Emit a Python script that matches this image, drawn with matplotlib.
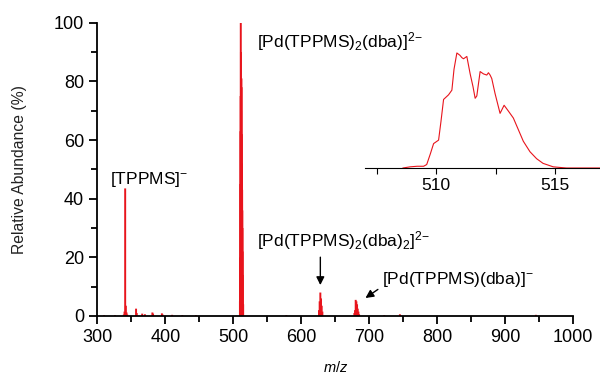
import numpy as np
import matplotlib
matplotlib.use("Agg")
import matplotlib.pyplot as plt
from matplotlib.ticker import MultipleLocator

plt.rcParams['font.family'] = ['Liberation Sans', 'DejaVu Sans']
plt.rcParams['mathtext.fontset'] = 'custom'
plt.rcParams['mathtext.rm'] = 'Liberation Sans'
plt.rcParams['mathtext.it'] = 'Liberation Sans:italic'

red = '#e8141c'

# main spectrum sticks (m/z, relative abundance %)
mz = [310, 326, 339, 340, 341, 342, 343, 344, 357, 358, 366, 370, 381, 382, 395, 396, 410, 425, 445,
      509.75, 510.0, 510.25, 510.5, 510.75, 511.0, 511.25, 511.5, 511.75, 512.0, 512.25, 512.5,
      512.75, 513.0, 513.25, 513.5, 513.75, 514.0, 514.5,
      578, 626, 627, 628, 629, 630, 631,
      678, 679, 680, 681, 682, 683, 684, 685, 722, 745, 746, 945]
abund = [0.3, 0.3, 0.5, 1.5, 43.5, 3.5, 1.2, 0.5, 2.5, 1.0, 0.8, 0.6, 1.2, 0.8, 0.9, 0.5, 0.4, 0.3, 0.3,
         5, 20, 45, 63, 75, 100, 90, 70, 62, 81, 78, 62,
         52, 43, 36, 30, 22, 14, 4,
         0.3, 2, 5, 8, 6, 3.5, 1.5,
         1, 2, 5.5, 5, 4, 2.5, 1.5, 0.6, 0.3, 0.6, 0.3, 0.4]

# inset: zoom on the m/z 510 cluster
inset_mz = [508.6, 508.9, 509.2, 509.47, 509.6, 509.75, 509.89, 510.1, 510.2, 510.31, 510.52, 510.66,
            510.75, 510.87, 511.0, 511.08, 511.15, 511.29, 511.43, 511.55, 511.64, 511.71, 511.85,
            511.99, 512.13, 512.2, 512.27, 512.34, 512.48, 512.69, 512.86, 513.04, 513.25, 513.46,
            513.67, 513.95, 514.23, 514.5, 514.93, 515.2, 515.49, 516.9]
inset_ab = [0, 1, 1.5, 1.5, 3, 12, 21, 24, 40, 59, 63, 67,
            85, 99, 97, 95, 94, 96, 81, 70, 60, 62, 83,
            81, 80, 82, 80, 77, 64, 47, 54, 49, 43, 33,
            23, 14, 8, 4, 1, 0.5, 0, 0]

fig = plt.figure(figsize=(6, 3.8), dpi=100)
ax = fig.add_axes([97.3/600, 1-316/380, 476/600, 293.3/380])
vl = ax.vlines(mz, 0, abund, color=red, lw=1.4)
vl.set_snap(False)
ax.set_xlim(300, 1000)
ax.set_ylim(0, 100)
ax.spines['top'].set_visible(False)
ax.spines['right'].set_visible(False)
for s in ['left', 'bottom']:
    ax.spines[s].set_linewidth(1.3)
ax.xaxis.set_major_locator(MultipleLocator(100))
ax.xaxis.set_minor_locator(MultipleLocator(50))
ax.yaxis.set_major_locator(MultipleLocator(20))
ax.yaxis.set_minor_locator(MultipleLocator(10))
ax.tick_params(which='major', direction='out', length=6, width=1.3, labelsize=13)
ax.tick_params(which='minor', direction='out', length=4, width=1.3)
ax.set_ylabel('Relative Abundance (%)', fontsize=11.3, labelpad=19, color='#222222')
ax.set_xlabel('$m/z$', fontsize=10.5, labelpad=10)

fs = 12.5
ax.text(319, 46.5, r'[TPPMS]$^{{-}}$', fontsize=fs, va='center')
ax.text(535, 93.5, r'[Pd(TPPMS)$_2$(dba)]$^{2{-}}$', fontsize=fs, va='center')
ax.text(535, 25.8, r'[Pd(TPPMS)$_2$(dba)$_2$]$^{2{-}}$', fontsize=fs, va='center')
ax.text(719, 12.3, r'[Pd(TPPMS)(dba)]$^{{-}}$', fontsize=fs, va='center')
ax.annotate('', xy=(628, 9.6), xytext=(628, 21),
            arrowprops=dict(arrowstyle='-|>', color='black', lw=1, mutation_scale=12))
ax.annotate('', xy=(691, 5.6), xytext=(716, 9.6),
            arrowprops=dict(arrowstyle='-|>', color='black', lw=1, mutation_scale=12))

ins = fig.add_axes([365/600, 1-168/380, 235/600, 122/380])
ins.plot(inset_mz, inset_ab, color=red, lw=0.8)
ins.set_xlim(507, 516.9)
ins.set_ylim(0, 105)
for s in ['top', 'right', 'left']:
    ins.spines[s].set_visible(False)
ins.spines['bottom'].set_linewidth(0.8)
ins.set_yticks([])
ins.xaxis.set_major_locator(MultipleLocator(5))
ins.xaxis.set_minor_locator(MultipleLocator(2.5))
ins.tick_params(which='major', direction='out', length=4, width=0.8, labelsize=12.5)
ins.tick_params(which='minor', direction='out', length=4, width=0.8)
ins.patch.set_alpha(0)

fig.savefig('out.png', dpi=100)
